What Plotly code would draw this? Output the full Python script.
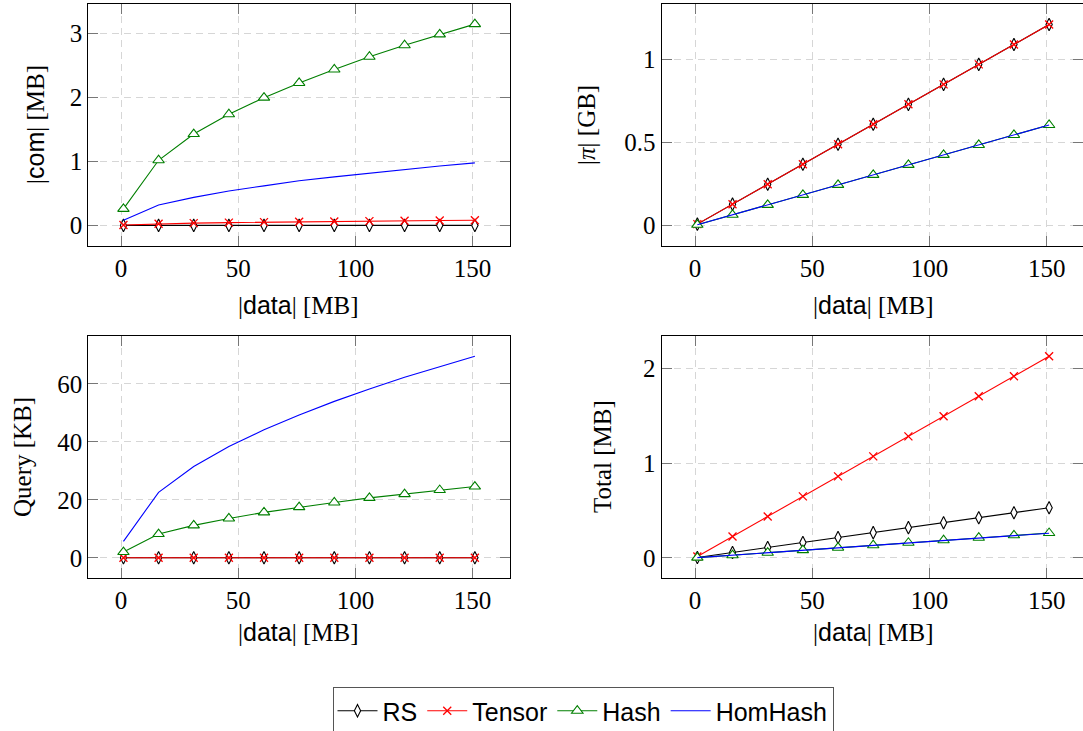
import plotly.graph_objects as go

W, H = 1083, 731

x_data = [1, 16, 31, 46, 61, 76, 91, 106, 121, 136, 151]
x_ticks = [0, 50, 100, 150]

# Panel 1: |com| [MB]
com_rs = [0.001, 0.001, 0.001, 0.001, 0.001, 0.001, 0.001, 0.001, 0.001, 0.001, 0.001]
com_tensor = [0.007, 0.027, 0.037, 0.045, 0.052, 0.058, 0.063, 0.068, 0.073, 0.078, 0.082]
com_hash = [0.26, 1.02, 1.43, 1.74, 2.00, 2.23, 2.44, 2.64, 2.82, 2.99, 3.15]
com_homhash = [0.08, 0.32, 0.44, 0.54, 0.62, 0.70, 0.76, 0.82, 0.88, 0.93, 0.98]
com_ticks = [0, 1, 2, 3]

# Panel 2: |pi| [GB]
pi_rs = [0.008, 0.128, 0.248, 0.368, 0.488, 0.608, 0.728, 0.848, 0.968, 1.088, 1.208]
pi_tensor = [0.008, 0.128, 0.248, 0.368, 0.488, 0.608, 0.728, 0.848, 0.968, 1.088, 1.208]
pi_hash = [0.004, 0.064, 0.124, 0.184, 0.244, 0.304, 0.364, 0.424, 0.484, 0.544, 0.604]
pi_homhash = [0.004, 0.064, 0.124, 0.184, 0.244, 0.304, 0.364, 0.424, 0.484, 0.544, 0.604]
pi_ticks = [0, 0.5, 1]

# Panel 3: Query [KB]
query_rs = [0.05, 0.05, 0.05, 0.05, 0.05, 0.05, 0.05, 0.05, 0.05, 0.05, 0.05]
query_tensor = [0.05, 0.05, 0.05, 0.05, 0.05, 0.05, 0.05, 0.05, 0.05, 0.05, 0.05]
query_hash = [2.0, 8.2, 11.2, 13.6, 15.7, 17.5, 19.1, 20.7, 22.0, 23.4, 24.6]
query_homhash = [5.7, 22.6, 31.5, 38.4, 44.2, 49.3, 54.0, 58.3, 62.3, 66.0, 69.6]
query_ticks = [0, 20, 40, 60]

# Panel 4: Total [MB]
total_rs = [0.004, 0.056, 0.109, 0.161, 0.214, 0.266, 0.319, 0.371, 0.424, 0.476, 0.529]
total_tensor = [0.014, 0.226, 0.437, 0.649, 0.860, 1.072, 1.283, 1.495, 1.706, 1.918, 2.129]
total_hash = [0.002, 0.028, 0.054, 0.081, 0.107, 0.133, 0.159, 0.186, 0.212, 0.238, 0.262]
total_homhash = [0.002, 0.028, 0.054, 0.081, 0.107, 0.133, 0.159, 0.186, 0.212, 0.238, 0.260]
total_ticks = [0, 1, 2]

names = ["RS", "Tensor", "Hash", "HomHash"]

SERIF = "Liberation Serif"
SANS = "Liberation Sans"
BLACK = "#000000"
RED = "#ff0000"
GREEN = "#007f00"
BLUE = "#0000ff"

def styles(name):
    if name == "RS":
        return dict(mode="lines+markers", line=dict(color=BLACK, width=1.1),
                    marker=dict(symbol="diamond-tall", size=9, color="white",
                                line=dict(color=BLACK, width=1.1)))
    if name == "Tensor":
        return dict(mode="lines+markers", line=dict(color=RED, width=1.1),
                    marker=dict(symbol="x-thin", size=8, color=RED,
                                line=dict(color=RED, width=1.3)))
    if name == "Hash":
        return dict(mode="lines+markers", line=dict(color=GREEN, width=1.1),
                    marker=dict(symbol="triangle-up", size=10, color="white",
                                line=dict(color=GREEN, width=1.1)))
    return dict(mode="lines", line=dict(color=BLUE, width=1.1))

panels = [
    ("x", "y", [com_rs, com_tensor, com_hash, com_homhash]),
    ("x2", "y2", [pi_rs, pi_tensor, pi_hash, pi_homhash]),
    ("x3", "y3", [query_rs, query_tensor, query_hash, query_homhash]),
    ("x4", "y4", [total_rs, total_tensor, total_hash, total_homhash]),
]

fig = go.Figure()
for pi, (xa, ya, series) in enumerate(panels):
    for name, vals in zip(names, series):
        fig.add_trace(go.Scatter(x=x_data, y=vals, name=name, xaxis=xa, yaxis=ya,
                                 legendgroup=name, showlegend=(pi == 0),
                                 **styles(name)))

def px_x(p):
    return p / W

def px_y(p):
    return 1 - p / H

left_dom = [px_x(88.3), px_x(510.0)]
right_dom = [px_x(661.7), 1.0]
top_dom = [px_y(245.6), px_y(4.0)]
bot_dom = [px_y(578.0), px_y(336.0)]

tickfont = dict(family=SERIF, size=25, color="black")
common = dict(showline=True, linecolor="black", linewidth=1.2, mirror="ticks",
              ticks="inside", ticklen=10, tickwidth=1, tickcolor="#777777",
              showgrid=True, gridcolor="#d6d6d6", gridwidth=1, griddash="7px,5px",
              zeroline=False, tickfont=tickfont, automargin=False)

xcommon = dict(common, tickvals=x_ticks, ticktext=[str(t) for t in x_ticks])

fig.update_layout(
    xaxis=dict(xcommon, domain=left_dom, range=[-14, 166], anchor="y"),
    yaxis=dict(common, domain=top_dom, range=[-0.315, 3.465], tickvals=com_ticks,
               ticktext=["0", "1", "2", "3"], anchor="x"),
    xaxis2=dict(xcommon, domain=right_dom, range=[-14.2, 165.45], anchor="y2"),
    yaxis2=dict(common, domain=top_dom, range=[-0.121, 1.331], tickvals=pi_ticks,
                ticktext=["0", "0.5", "1"], anchor="x2"),
    xaxis3=dict(xcommon, domain=left_dom, range=[-14, 166], anchor="y3"),
    yaxis3=dict(common, domain=bot_dom, range=[-6.96, 76.56], tickvals=query_ticks,
                ticktext=["0", "20", "40", "60"], anchor="x3"),
    xaxis4=dict(xcommon, domain=right_dom, range=[-14.2, 165.45], anchor="y4"),
    yaxis4=dict(common, domain=bot_dom, range=[-0.213, 2.343], tickvals=total_ticks,
                ticktext=["0", "1", "2"], anchor="x4"),
)

def sans(t):
    return f"<span style='font-family:{SANS}'>{t}</span>"

data_label = f"|{sans('data')}| [MB]"
title_font = dict(family=SERIF, size=25, color="black")
annots = [
    (px_x(299), px_y(305), data_label, 0),
    (px_x(873), px_y(305), data_label, 0),
    (px_x(299), px_y(632), data_label, 0),
    (px_x(873), px_y(632), data_label, 0),
    (px_x(35), px_y(125), f"|{sans('com')}| [MB]", -90),
    (px_x(587), px_y(125), "|<i>π</i>| [GB]", -90),
    (px_x(22), px_y(457), "Query [KB]", -90),
    (px_x(602), px_y(457), "Total [MB]", -90),
]
for ax, ay, txt, ang in annots:
    fig.add_annotation(x=ax, y=ay, xref="paper", yref="paper", text=txt,
                       textangle=ang, showarrow=False, xanchor="center",
                       yanchor="middle", font=title_font)

fig.update_layout(
    width=W, height=H,
    margin=dict(l=0, r=0, t=0, b=0, autoexpand=False),
    paper_bgcolor="white", plot_bgcolor="white",
    showlegend=True,
    legend=dict(orientation="h", x=px_x(583), xanchor="center",
                y=px_y(687), yanchor="top",
                font=dict(family=SANS, size=25, color="black"),
                bordercolor="#555555", borderwidth=1, bgcolor="white",
                itemwidth=40, tracegroupgap=0),
)

fig.write_html(
    "out.html",
    config={"displayModeBar": False},
    post_script="document.body.style.margin='0';document.body.style.overflow='hidden';",
)
